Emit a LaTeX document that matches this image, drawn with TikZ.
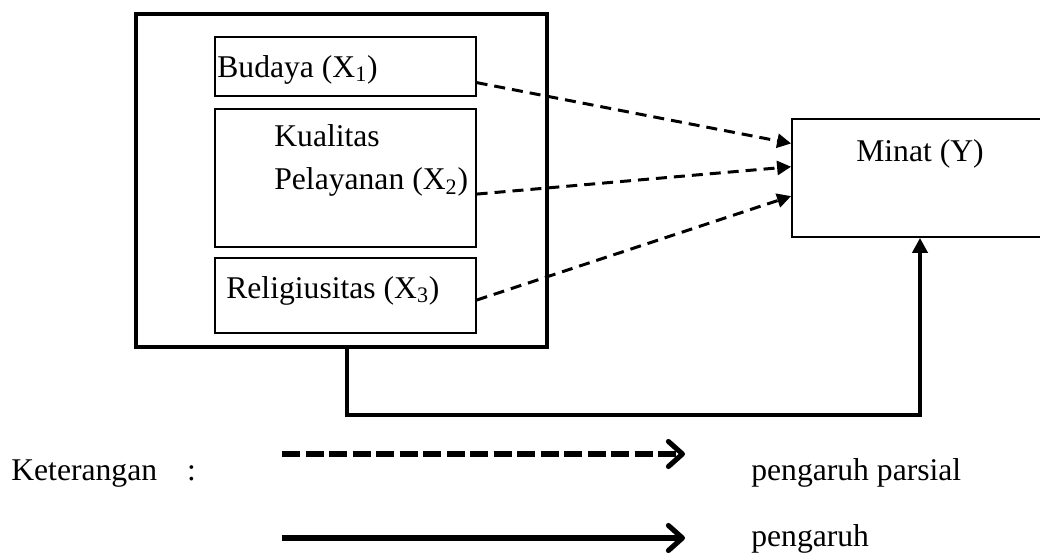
\documentclass[tikz,border=0pt]{standalone}
\usepackage{fontspec}
\setmainfont{Liberation Serif}
\usetikzlibrary{arrows.meta}

\begin{document}
\begin{tikzpicture}[
  txt/.style={font=\fontsize{18}{22}\selectfont, inner sep=0pt},
  varbox/.style={draw, line width=0.7pt, minimum width=5.22cm, inner sep=0pt},
  partial/.style={line width=1.7pt, dash pattern=on 0.22cm off 0.14cm, -{Triangle[length=0.28cm,width=0.28cm]}},
  total/.style={line width=2.8pt, -{Triangle[length=0.3cm,width=0.3cm]}},
  legend/.style={line width=2.9pt, -{Straight Barb[length=0.28cm,width=0.5cm,line cap=round,line join=round]}}]
\useasboundingbox (0,0) rectangle (20.8,11.16);
\node[draw, line width=2.3pt, minimum width=8.22cm, minimum height=6.66cm] (outer) at (6.83,7.55) {};
\node[varbox, minimum height=1.18cm] (b1) at (6.91,9.83) {};
\node[varbox, minimum height=2.76cm] (b2) at (6.91,7.60) {};
\node[varbox, minimum height=1.50cm] (b3) at (6.91,5.25) {};
\node[draw, line width=1pt, minimum width=5.12cm, minimum height=2.36cm] (minat) at (18.40,7.60) {};
\node[txt, anchor=base west] (t1) at (4.34,9.62) {Budaya (X\textsubscript{1})};
\node[txt, anchor=base west] (t2a) at (5.48,8.22) {Kualitas};
\node[txt, anchor=base west] (t2b) at (5.48,7.36) {Pelayanan (X\textsubscript{2})};
\node[txt, anchor=base west] (t3) at (4.52,5.20) {Religiusitas (X\textsubscript{3})};
\node[txt, anchor=base] (ty) at (18.40,7.92) {Minat (Y)};
\draw[partial] (b1.-7) -- (minat.165);
\draw[partial] (b2.-7) -- (minat.175);
\draw[partial] (b3.-2) -- (minat.188);
\draw[total] ([xshift=0.11cm]outer.south) -- ++(0,-1.32) -| (minat.south);
\node[txt, anchor=base west] (ket) at (0.22,1.56) {Keterangan\hspace{0.95em}:};
\coordinate (d1) at (5.64,2.08);
\coordinate (d2) at (13.70,2.08);
\coordinate (s1) at (5.64,0.40);
\coordinate (s2) at (13.70,0.40);
\draw[legend, dash pattern=on 0.36cm off 0.11cm] (d1) -- (d2);
\draw[legend] (s1) -- (s2);
\node[txt, anchor=base west] (lp) at (15.02,1.56) {pengaruh parsial};
\node[txt, anchor=base west] (lt) at (15.02,0.24) {pengaruh};
\end{tikzpicture}
\end{document}
